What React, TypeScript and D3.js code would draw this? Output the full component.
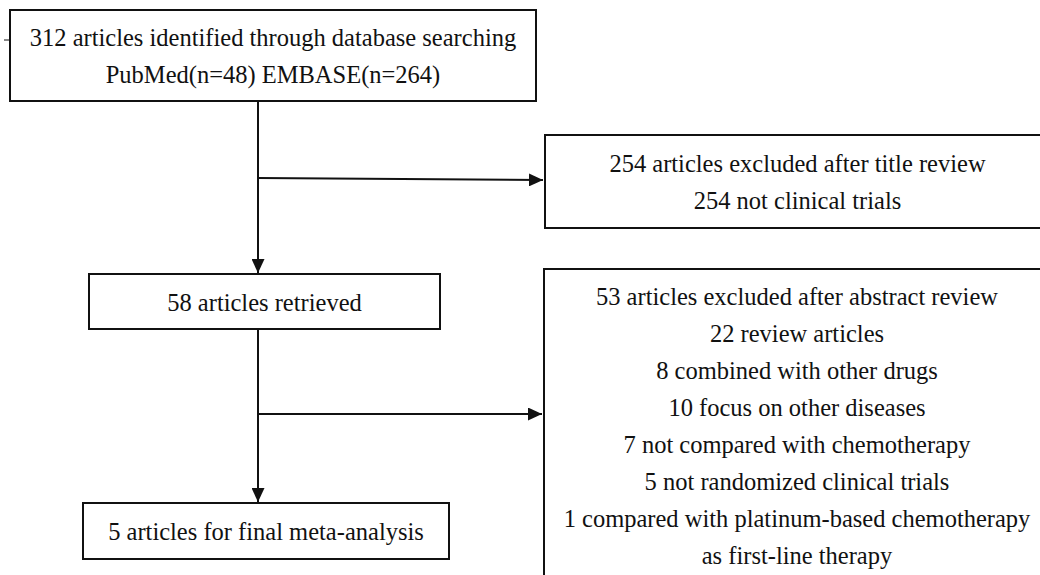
import * as d3 from "d3";

// box contents (text lines) for the flow diagram
const identifiedLines = ["312 articles identified through database searching", "PubMed(n=48) EMBASE(n=264)"];
const titleExcludedLines = ["254 articles excluded after title review", "254 not clinical trials"];
const retrievedLines = ["58 articles retrieved"];
const abstractExcludedLines = [
    "53 articles excluded after abstract review",
    "22 review articles",
    "8 combined with other drugs",
    "10 focus on other diseases",
    "7 not compared with chemotherapy",
    "5 not randomized clinical trials",
    "1 compared with platinum-based chemotherapy",
    "as first-line therapy",
];
const finalLines = ["5 articles for final meta-analysis"];

const W = 1040;
const H = 575;
const fontSize = 24.5;
const lineHeight = 37;
const stroke = "#111";
const fontFamily = "Times";

const boxes = [
    {id: "identified", x: 10, y: 10, w: 526, h: 91, lines: identifiedLines},
    {id: "title", x: 545, y: 135, w: 505, h: 93, lines: titleExcludedLines},
    {id: "retrieved", x: 89, y: 274, w: 351, h: 55, lines: retrievedLines},
    {id: "abstract", x: 544, y: 269, w: 506, h: 313, lines: abstractExcludedLines},
    {id: "final", x: 83, y: 503, w: 366, h: 56, lines: finalLines},
];
const byId = new Map(boxes.map(b => [b.id, b]));
const bottom = (id: string) => byId.get(id)!.y + byId.get(id)!.h;

const trunkX = 258;
const arrows = [
    {x1: trunkX, y1: bottom("identified"), x2: trunkX, y2: byId.get("retrieved")!.y - 1},
    {x1: trunkX, y1: bottom("retrieved"), x2: trunkX, y2: byId.get("final")!.y - 1},
    {x1: trunkX, y1: 178, x2: byId.get("title")!.x - 2, y2: 180},
    {x1: trunkX, y1: 414, x2: byId.get("abstract")!.x - 2, y2: 414},
];

// straight connector through d3.path
const connector = (a: {x1: number, y1: number, x2: number, y2: number}) => {
    const p = d3.path();
    p.moveTo(a.x1, a.y1);
    p.lineTo(a.x2, a.y2);
    return p.toString();
};

export default function App() {
    return (
        <div style={{position: "fixed", left: 0, top: 0, width: W, height: H, overflow: "hidden", background: "#fff"}}>
            <svg width={W} height={H} viewBox={`0 0 ${W} ${H}`} style={{display: "block"}}>
                <defs>
                    <marker id="arrowhead" viewBox="0 0 14 13" refX={14} refY={6.5}
                            markerWidth={14} markerHeight={13} markerUnits="userSpaceOnUse" orient="auto">
                        <path d="M0,0 L14,6.5 L0,13 Z" fill={stroke}/>
                    </marker>
                </defs>
                <g>
                    {arrows.map((a, i) => (
                        <path key={i} d={connector(a)} stroke={stroke} strokeWidth={2} fill="none"
                              markerEnd="url(#arrowhead)"/>
                    ))}
                </g>
                {/* little stray tick left of the top box */}
                <line x1={4} x2={10} y1={40} y2={40} stroke={stroke} strokeWidth={1}/>
                <g>
                    {boxes.map(b => {
                        const cx = b.x + b.w / 2;
                        const cy = b.y + b.h / 2;
                        const n = b.lines.length;
                        return (
                            <g key={b.id}>
                                <rect x={b.x} y={b.y} width={b.w} height={b.h} fill="#fff" stroke={stroke} strokeWidth={2}/>
                                {b.lines.map((t, i) => (
                                    <text key={i} x={cx} y={cy + (i - (n - 1) / 2) * lineHeight + 9}
                                          textAnchor="middle" fill="#111"
                                          style={{fontFamily: `"${fontFamily}"`, fontSize: `${fontSize}px`}}>
                                        {t}
                                    </text>
                                ))}
                            </g>
                        );
                    })}
                </g>
            </svg>
        </div>
    );
}
